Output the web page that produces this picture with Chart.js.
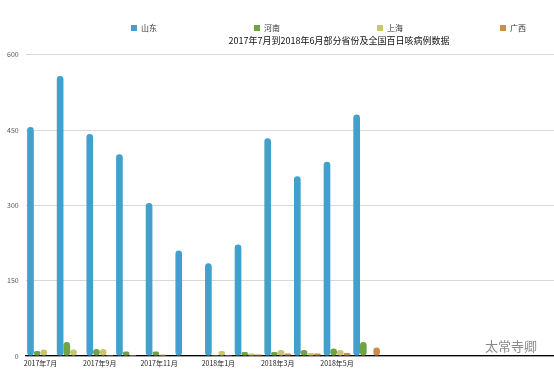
<!DOCTYPE html>
<html>
<head>
<meta charset="utf-8">
<script src="https://cdn.jsdelivr.net/npm/chart.js@4.4.1/dist/chart.umd.min.js"></script>
<style>
  html, body { margin: 0; padding: 0; background: #fff; overflow: hidden; }
  #wrap { position: relative; width: 554px; height: 375px; overflow: hidden; }
  #chart { position: absolute; left: 0; top: 0; }
  .mark { position: absolute; left: 485px; top: 336px; font: 13px "Noto Sans CJK SC", sans-serif;
          color: #8a8a8a; text-shadow: 0 0 2px #fff; }
</style>
</head>
<body>
<div id="wrap">
  <canvas id="chart" width="678" height="375"></canvas>
  <div class="mark">太常寺卿</div>
</div>
<script>
// months shown in the chart (extra empty slots on the right like the original)
const months = ['2017年7月', '2017年8月', '2017年9月', '2017年10月', '2017年11月', '2017年12月',
                '2018年1月', '2018年2月', '2018年3月', '2018年4月', '2018年5月', '2018年6月'];
const emptySlots = ['', '', '', '', '', '', '', '', '', ''];

// case counts
const shandong = [456, 558, 442, 402, 305, 210, 185, 222, 434, 358, 387, 481];
const henan    = [10, 28, 14, 9, 9, 1, 2, 8, 8, 12, 15, 28];
const shanghai = [13, 13, 14, 2, 3, 1, 10, 5, 12, 6, 12, 0];
const guangxi  = [1, 1, 2, 1, 1, 1, 2, 3, 5, 5, 6, 17];

const yTicks = [0, 150, 300, 450, 600];

const FONT = '"Noto Sans CJK SC", "Noto Sans", sans-serif';

// legend padding is (ab)used as the gap between items, so move the row back into place
const legendNudge = {
    id: 'legendNudge',
    afterLayout(chart) {
        const lg = chart.legend;
        const pad = lg.options.labels.padding;
        lg.top = 24 - pad;
        lg.bottom = 40;
        lg.left = 131 - pad;
    }
};

new Chart(document.getElementById('chart'), {
    type: 'bar',
    data: {
        labels: months.concat(emptySlots),
        datasets: [
            { label: '山东', data: shandong, backgroundColor: '#41a1cc' },
            { label: '河南', data: henan, backgroundColor: '#6ea346' },
            { label: '上海', data: shanghai, backgroundColor: '#cdc56b' },
            { label: '广西', data: guangxi, backgroundColor: '#c98d4c' }
        ]
    },
    options: {
        responsive: false,
        animation: false,
        layout: { padding: { left: 0, right: 0, top: 0, bottom: 4.6 } },
        datasets: {
            bar: {
                categoryPercentage: 0.9,
                barPercentage: 1.0,
                borderRadius: 3.5,
                borderSkipped: false
            }
        },
        plugins: {
            legend: {
                position: 'top',
                align: 'start',
                weight: 3000,
                maxHeight: 24,
                labels: {
                    boxWidth: 6,
                    boxHeight: 6,
                    padding: 97,
                    color: '#333',
                    font: { family: FONT, size: 8 }
                }
            },
            title: {
                display: true,
                text: '2017年7月到2018年6月部分省份及全国百日咳病例数据',
                color: '#111',
                font: { family: FONT, size: 9, weight: 'normal' },
                padding: { top: 11, bottom: 9 }
            },
            tooltip: { enabled: false }
        },
        scales: {
            x: {
                grid: { display: false, drawTicks: false },
                border: { color: '#000', width: 1.3 },
                ticks: {
                    autoSkip: false,
                    maxRotation: 0,
                    padding: 3,
                    color: '#222',
                    font: { family: FONT, size: 7 },
                    callback: function (val, i) {
                        return i % 2 === 0 ? this.getLabelForValue(val) : '';
                    }
                }
            },
            y: {
                min: yTicks[0],
                max: yTicks[yTicks.length - 1],
                afterBuildTicks: axis => { axis.ticks = yTicks.map(v => ({ value: v })); },
                grid: { color: '#d8d8d8', drawTicks: false },
                border: { display: false },
                ticks: {
                    padding: 7,
                    color: '#555',
                    font: { family: FONT, size: 7 }
                }
            }
        }
    },
    plugins: [legendNudge]
});
</script>
</body>
</html>
